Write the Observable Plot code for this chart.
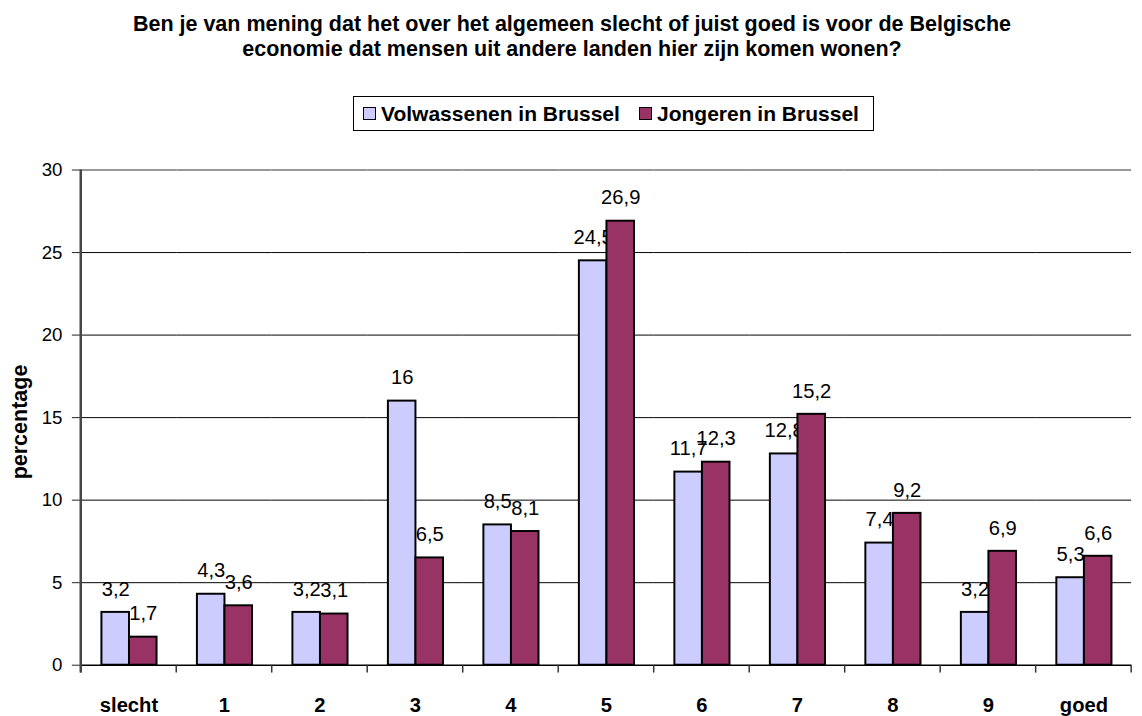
<!DOCTYPE html>
<html>
<head>
<meta charset="utf-8">
<script src="https://cdn.jsdelivr.net/npm/d3@7"></script>
<script src="https://cdn.jsdelivr.net/npm/@observablehq/plot@0.6"></script>
<style>
  html, body { margin: 0; padding: 0; background: #fff; overflow: hidden; width: 1142px; height: 716px; }
  body { font-family: "Liberation Sans", Arial, sans-serif; color: #000; position: relative; }
  #title { position: absolute; left: 0; top: 12px; width: 1144px; text-align: center; font-weight: bold; font-size: 21.5px; line-height: 25px; }
  #legend { position: absolute; left: 353px; top: 96px; width: 519px; height: 33px; border: 1px solid #000; }
  .sw { position: absolute; top: 10px; width: 13px; height: 13px; border: 1.5px solid #000; box-sizing: border-box; }
  .lt { position: absolute; top: 5px; font-weight: bold; font-size: 21px; line-height: 24px; white-space: nowrap; }
  #ytitle { position: absolute; left: 20px; top: 422px; transform: translate(-50%, -50%) rotate(-90deg); font-weight: bold; font-size: 21.5px; white-space: nowrap; }
  #chart { position: absolute; left: 0; top: 140px; }
</style>
</head>
<body>
<div id="title"></div>
<div id="legend"></div>
<div id="ytitle"></div>
<div id="chart"></div>
<script>
const titleLines = [
  "Ben je van mening dat het over het algemeen slecht of juist goed is voor de Belgische",
  "economie dat mensen uit andere landen hier zijn komen wonen?"
];
const yTitle = "percentage";
const categories = ["slecht", "1", "2", "3", "4", "5", "6", "7", "8", "9", "goed"];
const seriesNames = ["Volwassenen in Brussel", "Jongeren in Brussel"];
const seriesColors = ["#CCCCFF", "#993366"];
const volwassenen = [3.2, 4.3, 3.2, 16, 8.5, 24.5, 11.7, 12.8, 7.4, 3.2, 5.3];
const jongeren = [1.7, 3.6, 3.1, 6.5, 8.1, 26.9, 12.3, 15.2, 9.2, 6.9, 6.6];
const yTicks = [0, 5, 10, 15, 20, 25, 30];
const gridValues = [5, 10, 15, 20, 25];

const font = '"Liberation Sans", Arial, sans-serif';

document.getElementById("title").innerHTML = titleLines.join("<br>");
document.getElementById("ytitle").textContent = yTitle;

const legend = document.getElementById("legend");
const legendPos = [[9, 27], [285, 303]];
seriesNames.forEach((name, i) => {
  const sw = document.createElement("div");
  sw.className = "sw";
  sw.style.left = legendPos[i][0] + "px";
  sw.style.background = seriesColors[i];
  legend.appendChild(sw);
  const t = document.createElement("div");
  t.className = "lt";
  t.style.left = legendPos[i][1] + "px";
  t.textContent = name;
  legend.appendChild(t);
});

const rows = categories.flatMap((c, i) => [
  {cat: c, series: seriesNames[0], value: volwassenen[i]},
  {cat: c, series: seriesNames[1], value: jongeren[i]}
]);
const fmt = v => String(v).replace(".", ",");

const marks = [
  Plot.ruleY(gridValues, {stroke: "#000", strokeWidth: 1}),
  Plot.ruleY([30], {stroke: "#999", strokeWidth: 2}),
  Plot.ruleY([0], {stroke: "#000", strokeWidth: 1.5})
];
seriesNames.forEach((s, i) => {
  const d = rows.filter(r => r.series === s);
  marks.push(Plot.barY(d, {fx: "cat", x: "series", y: "value", fill: seriesColors[i], stroke: "#000", strokeWidth: 2}));
  marks.push(Plot.text(d, {fx: "cat", x: "series", y: "value", text: r => fmt(r.value), dy: -17, lineAnchor: "bottom", fontSize: 20.5, fill: "#000"}));
});
marks.push(Plot.axisY({ticks: yTicks, tickSize: 9, tickPadding: 10, fontSize: 19, label: null, stroke: "#222"}));
marks.push(Plot.axisFx({anchor: "bottom", tickSize: 0, tickPadding: 33, fontSize: 20.5, fontWeight: "bold", label: null}));

const plot = Plot.plot({
  width: 1160,
  height: 576,
  marginLeft: 82,
  marginRight: 11,
  marginTop: 30,
  marginBottom: 43,
  style: {fontFamily: font, fontSize: "19px", color: "#000", background: "transparent", overflow: "visible"},
  fx: {domain: categories, padding: 0},
  x: {domain: seriesNames, paddingInner: 0, paddingOuter: 0.732, axis: null},
  y: {domain: [0, 30]},
  marks
});
document.getElementById("chart").appendChild(plot);

// axis line and category-boundary ticks from the plot's own scales
const fxS = plot.scale("fx");
const yS = plot.scale("y");
const y0 = yS.apply(0), y30 = yS.apply(30);
const bounds = categories.map(c => fxS.apply(c));
bounds.push(fxS.apply(categories[categories.length - 1]) + fxS.bandwidth);
const g = d3.select(plot).append("g");
g.selectAll("line.tk").data(bounds).join("line")
  .attr("x1", d => d).attr("x2", d => d)
  .attr("y1", y0).attr("y2", y0 + 8)
  .attr("stroke", "#333").attr("stroke-width", 1.5);
g.append("line")
  .attr("x1", bounds[0]).attr("x2", bounds[0])
  .attr("y1", y30).attr("y2", y0 + 8)
  .attr("stroke", "#444").attr("stroke-width", 2.5);
</script>
</body>
</html>
